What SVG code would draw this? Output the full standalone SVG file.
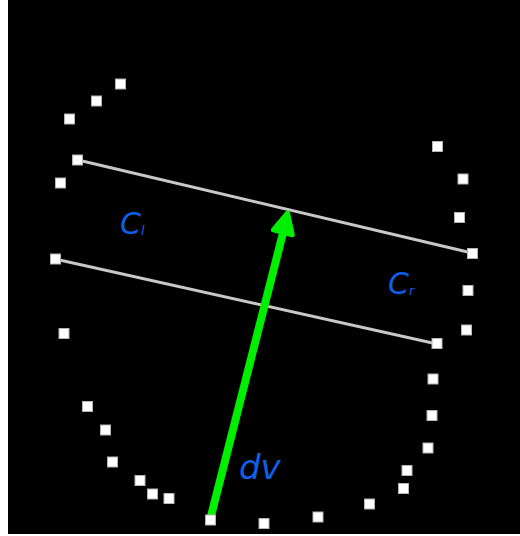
<svg xmlns="http://www.w3.org/2000/svg" width="520" height="536" viewBox="0 0 520 536">
<style>
.pt{fill:#ffffff;stroke:#b4b4b4;stroke-width:1}
.ln{stroke:#c8c8c8;stroke-width:3;stroke-linecap:round;fill:none}
.lbl{font-family:"DejaVu Sans",sans-serif;font-style:italic;fill:#0d5fe8}
</style>
<rect x="0" y="0" width="520" height="536" fill="#ffffff"/>
<rect x="8" y="0" width="512" height="534" fill="#000000"/>
<g id="connectors">
<line class="ln" x1="78" y1="160" x2="472" y2="253"/>
<line class="ln" x1="55" y1="259" x2="437" y2="344"/>
<line x1="210" y1="520" x2="283" y2="233" stroke="#00ee00" stroke-width="8"/>
<polygon points="287.5,213 292.3,234.8 273.4,229.8" fill="#00ee00" stroke="#00ee00" stroke-width="5" stroke-linejoin="round"/>
</g>
<g id="points">
<rect class="pt" x="115.5" y="79" width="10" height="10"/>
<rect class="pt" x="91.5" y="96" width="10" height="10"/>
<rect class="pt" x="64.5" y="114" width="10" height="10"/>
<rect class="pt" x="72.5" y="155" width="10" height="10"/>
<rect class="pt" x="55.5" y="178" width="10" height="10"/>
<rect class="pt" x="50.5" y="254" width="10" height="10"/>
<rect class="pt" x="59" y="328.5" width="10" height="10"/>
<rect class="pt" x="82.5" y="401.5" width="10" height="10"/>
<rect class="pt" x="100.5" y="425" width="10" height="10"/>
<rect class="pt" x="107.5" y="457" width="10" height="10"/>
<rect class="pt" x="135" y="475.5" width="10" height="10"/>
<rect class="pt" x="147.5" y="489" width="10" height="10"/>
<rect class="pt" x="164" y="493.5" width="10" height="10"/>
<rect class="pt" x="205.5" y="515" width="10" height="10"/>
<rect class="pt" x="259" y="518.5" width="10" height="10"/>
<rect class="pt" x="313" y="512" width="10" height="10"/>
<rect class="pt" x="364.5" y="499" width="10" height="10"/>
<rect class="pt" x="398.5" y="483.5" width="10" height="10"/>
<rect class="pt" x="402" y="465.5" width="10" height="10"/>
<rect class="pt" x="423" y="443" width="10" height="10"/>
<rect class="pt" x="427" y="410.5" width="10" height="10"/>
<rect class="pt" x="428" y="374" width="10" height="10"/>
<rect class="pt" x="432" y="338.5" width="10" height="10"/>
<rect class="pt" x="461.5" y="325" width="10" height="10"/>
<rect class="pt" x="463" y="285.5" width="10" height="10"/>
<rect class="pt" x="467.5" y="248.5" width="10" height="10"/>
<rect class="pt" x="454.5" y="212.5" width="10" height="10"/>
<rect class="pt" x="458" y="174" width="10" height="10"/>
<rect class="pt" x="432.5" y="141.5" width="10" height="10"/>
</g>
<g id="labels">
<text class="lbl" x="120" y="234" font-size="30">C<tspan font-size="13" dy="1">l</tspan></text>
<text class="lbl" x="388" y="294" font-size="30">C<tspan font-size="13" dy="1">r</tspan></text>
<text class="lbl" x="239" y="479" font-size="34">dv</text>
</g>
</svg>
